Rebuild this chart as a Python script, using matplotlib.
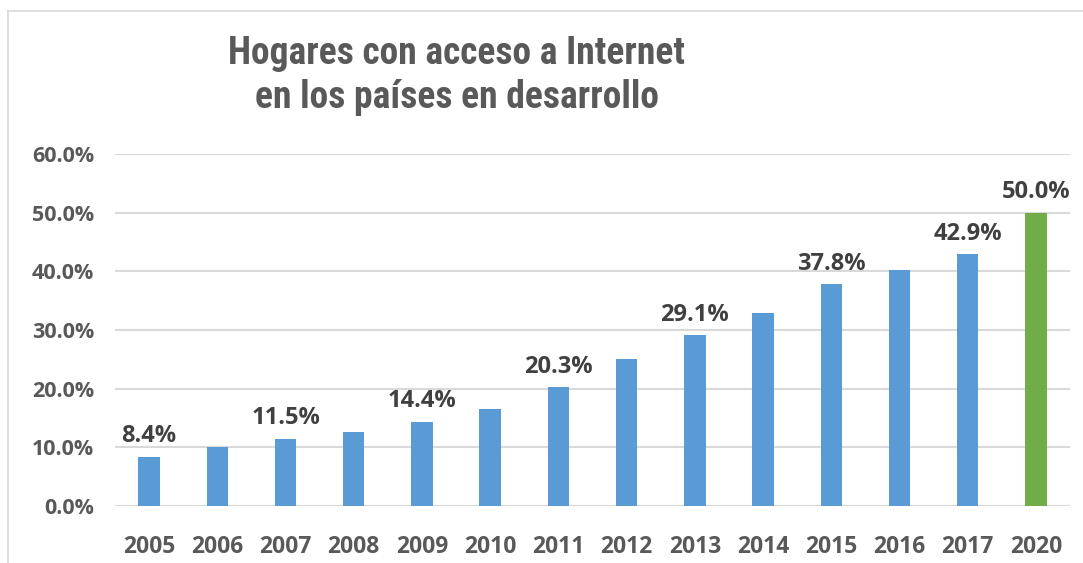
import matplotlib
matplotlib.use("Agg")
import matplotlib.pyplot as plt
from matplotlib import font_manager
from matplotlib.lines import Line2D

years = ["2005", "2006", "2007", "2008", "2009", "2010", "2011",
         "2012", "2013", "2014", "2015", "2016", "2017", "2020"]
values = [8.4, 10.0, 11.5, 12.6, 14.4, 16.6, 20.3,
          25.0, 29.1, 32.9, 37.8, 40.3, 42.9, 50.0]
labeled_years = ["2005", "2007", "2009", "2011", "2013", "2015", "2017", "2020"]
highlight_years = ["2020"]
yticks = [0, 10, 20, 30, 40, 50, 60]
title_lines = ["Hogares con acceso a Internet", "en los países en desarrollo"]

blue = "#5B9BD5"
green = "#70AD47"
tick_color = "#595959"
label_color = "#404040"

names = {f.name for f in font_manager.fontManager.ttflist}
title_font, title_size = "Open Sans", 22
for cand, size in [("Roboto Condensed", 27), ("Liberation Sans Narrow", 25),
                   ("DejaVu Sans Condensed", 22), ("Open Sans", 22)]:
    if cand in names:
        title_font, title_size = cand, size
        break
body_font = "Open Sans" if "Open Sans" in names else "DejaVu Sans"

fig = plt.figure(figsize=(10.83, 5.63), dpi=100)
ax = fig.add_axes([115 / 1083, 1 - 506 / 563, (1070 - 115) / 1083, (506 - 154) / 563])

x = list(range(len(years)))
colors = [green if y in highlight_years else blue for y in years]
ax.bar(x, values, width=0.315, color=colors, zorder=3)

for xi, y, v in zip(x, years, values):
    if y in labeled_years:
        ax.annotate(f"{v:.1f}%", (xi, v), xytext=(0, 6), textcoords="offset points",
                    ha="center", va="bottom", fontsize=17, fontweight="bold",
                    color=label_color, family=body_font)

ax.set_xlim(-0.5, len(years) - 0.5)
ax.set_ylim(0, 60)
ax.set_yticks(yticks)
ax.set_yticklabels([f"{t:.1f}%" for t in yticks])
ax.set_xticks(x)
ax.set_xticklabels(years)
ax.yaxis.grid(True, color="#D9D9D9", linewidth=1.5, zorder=0)
ax.set_axisbelow(True)
for s in ax.spines.values():
    s.set_visible(False)
ax.tick_params(axis="both", length=0, colors=tick_color)
ax.tick_params(axis="y", pad=15)
ax.tick_params(axis="x", pad=21)
for lab in ax.get_yticklabels():
    lab.set_fontsize(15.5)
    lab.set_fontweight("bold")
    lab.set_family(body_font)
    lab.set_color(tick_color)
for lab in ax.get_xticklabels():
    lab.set_fontsize(16.5)
    lab.set_fontweight("bold")
    lab.set_family(body_font)
    lab.set_color(tick_color)

fig.text(457 / 1083, 1 - 54 / 563, title_lines[0], ha="center", va="center",
         fontsize=title_size, fontweight="bold", color=tick_color, family=title_font)
fig.text(457 / 1083, 1 - 97 / 563, title_lines[1], ha="center", va="center",
         fontsize=title_size, fontweight="bold", color=tick_color, family=title_font)

# chart area border (top and left visible)
fig.add_artist(Line2D([8 / 1083, 8 / 1083], [0, 1 - 11 / 563], transform=fig.transFigure,
                      color="#D9D9D9", linewidth=1.2))
fig.add_artist(Line2D([8 / 1083, 1], [1 - 11 / 563, 1 - 11 / 563], transform=fig.transFigure,
                      color="#D9D9D9", linewidth=1.2))

fig.savefig("out.png", dpi=100, facecolor="white")
